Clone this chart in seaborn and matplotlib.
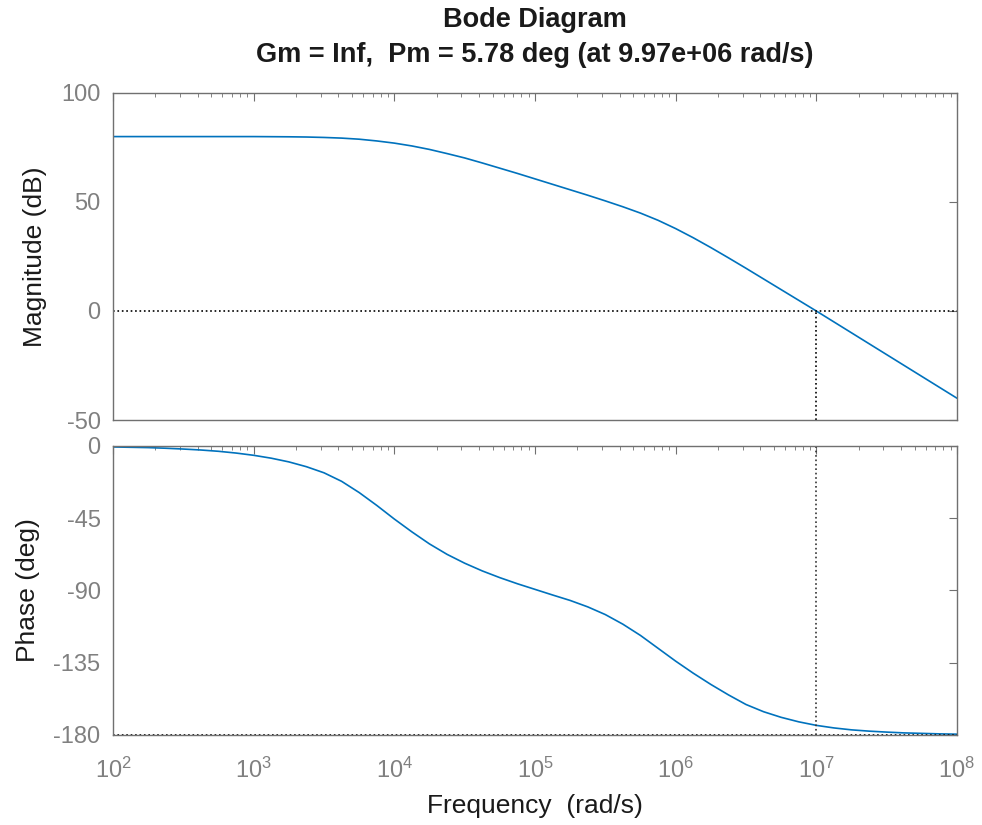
import matplotlib
matplotlib.use("Agg")
import matplotlib.pyplot as plt
import seaborn as sns
import pandas as pd
import numpy as np

# log10 of frequency (rad/s), eighth-decade steps
freq_exp = [2.0, 2.125, 2.25, 2.375, 2.5, 2.625, 2.75, 2.875,
            3.0, 3.125, 3.25, 3.375, 3.5, 3.625, 3.75, 3.875,
            4.0, 4.125, 4.25, 4.375, 4.5, 4.625, 4.75, 4.875,
            5.0, 5.125, 5.25, 5.375, 5.5, 5.625, 5.75, 5.875,
            6.0, 6.125, 6.25, 6.375, 6.5, 6.625, 6.75, 6.875,
            7.0, 7.125, 7.25, 7.375, 7.5, 7.625, 7.75, 7.875, 8.0]
# values
mag_db = [80, 80, 80, 80, 80, 80, 80, 80,
          80, 79.95, 79.9, 79.8, 79.6, 79.3, 78.8, 78.0,
          77.0, 75.7, 74.1, 72.2, 70.2, 67.9, 65.5, 63.1,
          60.6, 58.1, 55.6, 53.1, 50.5, 47.8, 44.9, 41.6,
          37.8, 33.6, 29.1, 24.4, 19.6, 14.7, 9.8, 4.9,
          0, -5.0, -10.0, -15.0, -20.0, -25.0, -30.0, -35.0, -40.0]
phase_deg = [-0.6, -0.8, -1.0, -1.4, -1.9, -2.5, -3.3, -4.4,
             -5.8, -7.6, -9.9, -12.9, -16.7, -22, -29, -37,
             -45.5, -53.5, -61, -67.5, -73, -77.8, -82, -85.8,
             -89.3, -92.8, -96.2, -100.2, -105, -111, -118, -126,
             -134, -141.5, -148.5, -155, -161, -165.5, -169, -171.8,
             -174.0, -175.6, -176.8, -177.6, -178.2, -178.7, -179.0, -179.3, -179.5]

wc = 9.97e6
title = "Bode Diagram\nGm = Inf,  Pm = 5.78 deg (at 9.97e+06 rad/s)"

df = pd.DataFrame({"freq": np.power(10.0, freq_exp), "mag": mag_db, "phase": phase_deg})

sns.set_style("white")
plt.rcParams["font.family"] = ["Liberation Sans", "DejaVu Sans"]
plt.rcParams["mathtext.fontset"] = "custom"
plt.rcParams["mathtext.rm"] = "Liberation Sans"
plt.rcParams["mathtext.it"] = "Liberation Sans"
plt.rcParams["axes.unicode_minus"] = False

grey = "#808080"
line_c = "#0072BD"

fig = plt.figure(figsize=(9.82, 8.25), dpi=100)
ax1 = fig.add_axes([0.1151, 0.4909, 0.8594, 0.3964])
ax2 = fig.add_axes([0.1151, 0.1091, 0.8594, 0.3503], sharex=ax1)

sns.lineplot(data=df, x="freq", y="mag", ax=ax1, color=line_c, linewidth=1.2)
sns.lineplot(data=df, x="freq", y="phase", ax=ax2, color=line_c, linewidth=1.2)

for ax in (ax1, ax2):
    ax.set_xscale("log")
    ax.set_xlim(1e2, 1e8)
    for s in ax.spines.values():
        s.set_color("#707070")
        s.set_linewidth(1.0)
    ax.tick_params(which="both", direction="in", top=True, right=True,
                   colors="#707070", labelcolor=grey, labelsize=17)
    ax.tick_params(which="major", length=6)
    ax.tick_params(which="minor", length=3)
    ax.tick_params(axis="y", pad=9)
    ax.tick_params(axis="x", pad=16)

# magnitude panel
ax1.set_ylim(-50, 100)
ax1.set_yticks([-50, 0, 50, 100])
ax1.axhline(0, color="black", linestyle=":", linewidth=1.2)
ax1.plot([wc, wc], [-50, 0], color="black", linestyle=":", linewidth=1.2)
ax1.set_xlabel("")
ax1.set_ylabel("Magnitude (dB)", fontsize=19, color="#1a1a1a", labelpad=10)
ax1.tick_params(labelbottom=False)
ax1.set_title(title, fontsize=19.5, fontweight="bold", color="#1a1a1a",
              pad=22, linespacing=1.45)

# phase panel
ax2.set_ylim(-180, 0)
ax2.set_yticks([0, -45, -90, -135, -180])
ax2.axhline(-180, color="black", linestyle=":", linewidth=1.2)
ax2.axvline(wc, color="#333333", linestyle=":", linewidth=1.2)
ax2.set_ylabel("Phase (deg)", fontsize=19, color="#1a1a1a", labelpad=10)
ax2.set_xlabel("Frequency  (rad/s)", fontsize=19, color="#1a1a1a", labelpad=8)
ax2.set_xticks([1e2, 1e3, 1e4, 1e5, 1e6, 1e7, 1e8])

fig.savefig("out.png", dpi=100)
